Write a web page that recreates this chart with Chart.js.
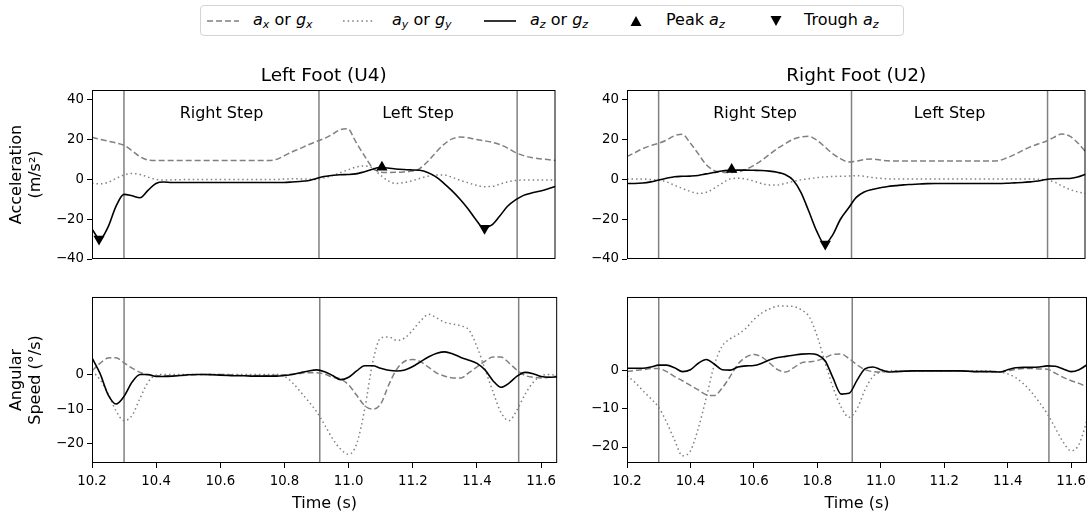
<!DOCTYPE html>
<html>
<head>
<meta charset="utf-8">
<script src="https://cdn.jsdelivr.net/npm/chart.js@4.4.0/dist/chart.umd.min.js"></script>
<style>
  body { margin: 0; background: #fff; width: 1092px; height: 516px; position: relative; overflow: hidden; font-family: 'DejaVu Sans', sans-serif; }
  canvas { position: absolute; }
  #legend { position: absolute; left: 200px; top: 5px; width: 704px; height: 31px; box-sizing: border-box; border: 1px solid #d4d4d4; border-radius: 4px; background: #fff; }
  #legend svg { position: absolute; }
  #legend .t { position: absolute; top: 4px; font-size: 16px; line-height: 20px; white-space: nowrap; color: #000; }
  #legend sub { font-size: 11px; vertical-align: -3px; line-height: 0; }
</style>
</head>
<body>
<div id="legend">
  <svg style="left:6px;top:10px" width="32" height="10"><line x1="0" y1="5" x2="32" y2="5" stroke="gray" stroke-width="1.6" stroke-dasharray="6,3"/></svg>
  <span class="t" style="left:52px"><i>a</i><sub><i>x</i></sub> or <i>g</i><sub><i>x</i></sub></span>
  <svg style="left:142px;top:10px" width="32" height="10"><line x1="0" y1="5" x2="32" y2="5" stroke="gray" stroke-width="1.6" stroke-dasharray="1.6,3"/></svg>
  <span class="t" style="left:191px"><i>a</i><sub><i>y</i></sub> or <i>g</i><sub><i>y</i></sub></span>
  <svg style="left:283px;top:10px" width="32" height="10"><line x1="0" y1="5" x2="32" y2="5" stroke="#000" stroke-width="1.6"/></svg>
  <span class="t" style="left:329px"><i>a</i><sub><i>z</i></sub> or <i>g</i><sub><i>z</i></sub></span>
  <svg style="left:429px;top:9px" width="12" height="12"><polygon points="6,1 11.5,11 0.5,11" fill="#000"/></svg>
  <span class="t" style="left:465px">Peak <i>a</i><sub><i>z</i></sub></span>
  <svg style="left:569px;top:9px" width="12" height="12"><polygon points="0.5,1 11.5,1 6,11" fill="#000"/></svg>
  <span class="t" style="left:603px">Trough <i>a</i><sub><i>z</i></sub></span>
</div>
<canvas id="accL" width="562" height="216" style="left:0;top:55px"></canvas>
<canvas id="accR" width="530" height="216" style="left:562px;top:55px"></canvas>
<canvas id="gyrL" width="562" height="230" style="left:0;top:286px"></canvas>
<canvas id="gyrR" width="530" height="230" style="left:562px;top:286px"></canvas>
<script>
Chart.defaults.font.family = "'DejaVu Sans', sans-serif";
Chart.defaults.color = '#000';

// time axis (s)
const time = [
  10.2, 10.225, 10.25, 10.275, 10.3, 10.325, 10.35, 10.375, 10.4, 10.425,
  10.45, 10.475, 10.5, 10.525, 10.55, 10.575, 10.6, 10.625, 10.65, 10.675,
  10.7, 10.725, 10.75, 10.775, 10.8, 10.825, 10.85, 10.875, 10.9, 10.925,
  10.95, 10.975, 11.0, 11.025, 11.05, 11.075, 11.1, 11.125, 11.15, 11.175,
  11.2, 11.225, 11.25, 11.275, 11.3, 11.325, 11.35, 11.375, 11.4, 11.425,
  11.45, 11.475, 11.5, 11.525, 11.55, 11.575, 11.6, 11.625, 11.65
];
const timeTicks = [10.2, 10.4, 10.6, 10.8, 11.0, 11.2, 11.4, 11.6];
const stepBounds = [10.3, 10.91, 11.53];
const stepNames = ['Right Step', 'Left Step'];
const stepLabelY = 33;

const accTicks = [-40, -20, 0, 20, 40];
const gyrTicks = [-20, -10, 0];

// left foot (U4) acceleration
const accL_x = [
  21.2, 20.2, 19.3, 18.4, 17.2, 14.5, 11.5, 9.8, 9.5, 9.5,
  9.5, 9.5, 9.5, 9.5, 9.5, 9.5, 9.5, 9.5, 9.5, 9.5,
  9.5, 9.5, 9.5, 10.0, 11.8, 13.8, 15.5, 17.3, 19.0, 20.5,
  22.5, 25.0, 25.5, 19.0, 12.5, 6.5, 3.8, 3.5, 3.6, 3.8,
  4.2, 5.5, 9.0, 13.5, 17.5, 20.3, 21.3, 21.0, 20.2, 19.5,
  18.8, 17.6, 15.8, 13.5, 12.0, 11.0, 10.4, 10.0, 9.6
];
const accL_y = [
  -2.0, -2.2, -1.5, 0.5, 2.2, 3.0, 2.5, 1.2, 0.0, -0.3,
  -0.2, -0.1, 0, 0, 0, 0, 0, 0, 0, 0,
  0, 0, 0, 0, 0.2, 0.3, 0.3, 0.2, 0.0, 0.8,
  1.8, 3.3, 4.8, 6.2, 6.8, 6.0, 2.5, -0.5, -2.0, -1.6,
  -0.7, 0.5, 1.6, 2.3, 2.3, 1.2, -0.3, -1.6, -2.8, -3.6,
  -3.5, -2.4, -1.2, -0.5, -0.3, -0.3, -0.3, -0.3, -0.3
];
const accL_z = [
  -25.0, -30.0, -24.0, -13.5, -7.5, -8.2, -9.2, -5.5, -2.0, -1.3,
  -1.5, -1.5, -1.5, -1.5, -1.5, -1.5, -1.5, -1.5, -1.5, -1.5,
  -1.5, -1.5, -1.5, -1.5, -1.5, -1.3, -1.0, -0.6, 0.4, 1.5,
  2.0, 2.4, 2.5, 2.8, 3.8, 5.0, 6.0, 5.8, 5.3, 5.0,
  4.8, 4.6, 3.5, 1.4, -1.8, -5.5, -9.7, -14.5, -20.0, -24.3,
  -23.0, -18.5, -13.5, -10.3, -8.0, -6.8, -5.9, -4.8, -3.5
];
const peakL_t = [11.107];
const peakL_v = [6.1];
const troughL_t = [10.222, 11.428];
const troughL_v = [-30.0, -24.5];

// right foot (U2) acceleration
const accR_x = [
  11.5, 13.5, 15.5, 17.0, 18.2, 19.8, 22.0, 22.7, 18.3, 13.0,
  7.5, 4.5, 3.6, 3.5, 3.8, 5.0, 7.0, 9.5, 12.5, 15.5,
  18.0, 20.2, 21.4, 21.7, 19.8, 16.5, 13.0, 10.5, 8.8, 9.2,
  10.0, 10.3, 9.8, 9.4, 9.3, 9.3, 9.3, 9.3, 9.3, 9.3,
  9.3, 9.3, 9.3, 9.3, 9.3, 9.3, 9.3, 9.5, 10.8, 12.5,
  14.5, 16.4, 17.8, 19.2, 21.2, 22.9, 21.8, 18.5, 14.0
];
const accR_y = [
  0.2, 0.2, 0.2, 0.0, -0.3, -1.2, -2.9, -4.5, -6.0, -7.0,
  -6.5, -4.5, -2.0, 0.2, 0.6, 0.3, -0.8, -2.0, -2.8, -2.8,
  -2.0, -1.0, -0.2, 0.4, 0.9, 1.3, 1.5, 1.6, 1.7, 1.9,
  1.6, 1.0, 0.6, 0.3, 0.2, 0.2, 0.2, 0.2, 0.2, 0.2,
  0.2, 0.2, 0.2, 0.2, 0.2, 0.2, 0.2, 0.2, 0.2, 0.2,
  0.2, 0.2, 0.1, -0.3, -1.2, -3.2, -5.0, -6.2, -7.0
];
const accR_z = [
  -2.0, -2.0, -1.8, -1.2, -0.3, 0.6, 1.4, 1.6, 1.7, 2.0,
  2.8, 3.5, 4.3, 4.6, 4.7, 4.7, 4.6, 4.5, 4.2, 3.6,
  2.5, -0.3, -6.5, -16.0, -26.0, -32.5, -28.0, -20.0, -14.5, -9.0,
  -6.3, -5.0, -4.2, -3.5, -3.1, -2.7, -2.5, -2.3, -2.1, -2.0,
  -2.0, -2.0, -2.0, -2.0, -2.0, -2.0, -2.0, -2.0, -1.9, -1.7,
  -1.5, -1.2, -0.8, 0.0, 0.4, 0.5, 0.5, 1.2, 2.6
];
const peakR_t = [10.531];
const peakR_v = [5.0];
const troughR_t = [10.827];
const troughR_v = [-32.5];

// left foot (U4) angular speed
const gyrL_x = [
  1.0, 3.2, 4.7, 4.8, 3.3, 1.8, 0.6, -0.2, -0.4, -0.4,
  -0.4, -0.3, -0.2, -0.1, 0.0, 0.0, 0.0, -0.1, -0.2, -0.3,
  -0.3, -0.3, -0.3, -0.2, -0.1, 0.1, 0.3, 0.5, 0.5, 0.1,
  -0.8, -1.3, -3.0, -6.0, -9.0, -10.0, -8.5, -3.0, 1.5, 3.8,
  4.3, 3.6, 2.0, 0.4, -0.5, -1.0, -1.0, 0.5, 2.2, 3.8,
  5.0, 5.0, 3.3, 1.2, -0.3, -0.8, -1.0, -0.8, -0.5
];
const gyrL_y = [
  1.0, -1.5, -5.5, -10.5, -13.3, -11.8, -6.8, -2.2, -0.2, 0.0,
  0, 0, 0, 0, 0, 0, 0, 0, 0, 0,
  0, 0, 0, 0, -0.5, -2.4, -5.0, -7.8, -10.7, -14.5,
  -18.5, -21.5, -23.0, -20.0, -10.0, 3.5, 10.5, 10.8, 9.8, 10.5,
  12.8, 15.5, 17.3, 16.2, 15.0, 14.5, 14.0, 12.8, 8.0, 1.5,
  -5.0, -11.0, -13.3, -10.2, -5.7, -2.3, -0.4, 0.0, -0.3
];
const gyrL_z = [
  4.8, 0.3, -5.8, -8.5, -6.3, -2.2, 0.0, 0.0, -0.6, -0.6,
  -0.5, -0.3, -0.1, 0.0, 0.0, -0.1, -0.2, -0.3, -0.4, -0.4,
  -0.5, -0.5, -0.5, -0.5, -0.3, 0.0, 0.5, 1.0, 1.3, 0.8,
  -0.3, -1.5, -0.8, 1.0, 2.5, 2.5, 1.8, 1.2, 1.0, 1.3,
  2.3, 3.7, 5.1, 6.1, 6.5, 5.9, 4.9, 4.1, 3.2, 1.3,
  -1.8, -3.7, -2.5, -0.5, 0.6, 0.2, -0.6, -0.8, -0.7
];

// right foot (U2) angular speed
const gyrR_x = [
  -0.2, 0.1, 0.3, 0.6, 0.6, -0.2, -1.5, -2.6, -3.8, -5.0,
  -6.3, -6.5, -4.5, -1.5, 1.8, 3.6, 4.3, 3.6, 2.0, 0.3,
  -0.3, 0.8, 2.1, 2.4, 2.7, 3.5, 4.3, 4.4, 3.2, 1.6,
  0.3, -0.2, -0.3, -0.2, -0.1, 0.0, 0.0, 0.0, 0.0, 0.0,
  0.0, 0.0, 0.0, -0.1, -0.2, -0.2, -0.3, -0.3, 0.0, 0.4,
  0.6, 0.6, 0.5, 0.4, -0.6, -1.7, -2.6, -3.3, -4.3
];
const gyrR_y = [
  -1.3, -3.0, -5.2, -7.3, -9.6, -13.5, -18.2, -22.3, -21.0, -15.0,
  -7.0, 1.5, 6.5, 8.4, 9.6, 11.2, 13.5, 15.2, 16.3, 17.0,
  17.0, 16.9, 16.0, 14.1, 9.0, 2.0, -4.5, -9.5, -12.2, -10.0,
  -5.0, -1.5, -0.3, 0, 0, 0, 0, 0, 0, 0,
  0, 0, 0, 0, 0, 0, -0.1, -0.3, -0.8, -1.8,
  -3.4, -5.6, -8.3, -11.3, -15.0, -18.7, -21.0, -19.3, -13.0
];
const gyrR_z = [
  0.7, 0.7, 0.7, 1.0, 1.5, 1.5, 0.8, -0.2, 0.3, 2.0,
  3.0, 1.8, 0.3, 0.2, 1.0, 1.3, 1.4, 2.0, 2.9, 3.5,
  3.8, 4.1, 4.4, 4.5, 4.2, 2.6, -2.0, -6.1, -5.9, -2.5,
  0.5, 1.0, 0.3, -0.3, -0.2, -0.1, 0.0, 0.0, 0.0, 0.0,
  0.0, 0.0, 0.0, -0.1, -0.2, -0.2, -0.2, -0.3, 0.3, 0.8,
  0.9, 0.9, 1.0, 1.3, 1.2, 0.5, -0.2, 0.3, 1.6
];

const minus = v => String(v).replace('-', '\u2212');

// vertical step lines, step names, frame and panel title
const panelDecor = {
  id: 'panelDecor',
  beforeDatasetsDraw(chart, args, opts) {
    const { ctx, chartArea: a, scales: { x, y } } = chart;
    ctx.save();
    ctx.strokeStyle = 'gray';
    ctx.lineWidth = 1.5;
    stepBounds.forEach(t => {
      const px = x.getPixelForValue(t);
      ctx.beginPath();
      ctx.moveTo(px, a.top);
      ctx.lineTo(px, a.bottom);
      ctx.stroke();
    });
    if (opts.steps) {
      ctx.fillStyle = '#000';
      ctx.font = "16px 'DejaVu Sans'";
      ctx.textAlign = 'center';
      ctx.textBaseline = 'middle';
      stepNames.forEach((name, i) => {
        const cx = x.getPixelForValue((stepBounds[i] + stepBounds[i + 1]) / 2);
        ctx.fillText(name, cx, y.getPixelForValue(stepLabelY));
      });
    }
    ctx.restore();
  },
  afterDraw(chart, args, opts) {
    const { ctx, chartArea: a } = chart;
    ctx.save();
    ctx.strokeStyle = '#000';
    ctx.lineWidth = 1;
    ctx.strokeRect(a.left + 0.5, a.top + 0.5, a.right - a.left - 1, a.bottom - a.top - 1);
    if (opts.title) {
      ctx.fillStyle = '#000';
      ctx.font = "18.5px 'DejaVu Sans'";
      ctx.textAlign = 'center';
      ctx.textBaseline = 'middle';
      ctx.fillText(opts.title, (a.left + a.right) / 2, a.top - 14);
    }
    ctx.restore();
  }
};

const line = (vals, kind) => ({
  data: time.map((t, i) => ({ x: t, y: vals[i] })),
  borderColor: kind === 'z' ? '#000' : 'gray',
  borderWidth: kind === 'z' ? 1.6 : 1.5,
  borderDash: kind === 'x' ? [6, 3] : kind === 'y' ? [1.5, 3] : [],
  pointRadius: 0,
  cubicInterpolationMode: 'monotone',
  fill: false
});

const marks = (ts, vs, down) => ({
  data: ts.map((t, i) => ({ x: t, y: vs[i] })),
  showLine: false,
  pointStyle: 'triangle',
  rotation: down ? 180 : 0,
  pointRadius: 6.5,
  backgroundColor: '#000',
  borderColor: '#000',
  borderWidth: 0
});

const tickGrid = { display: true, drawOnChartArea: false, drawTicks: true, tickLength: 5, tickColor: '#000', tickWidth: 1 };

function makeChart(id, o) {
  return new Chart(document.getElementById(id), {
    type: 'line',
    data: { datasets: o.datasets },
    options: {
      responsive: false,
      animation: false,
      devicePixelRatio: 1,
      layout: { padding: o.padding },
      plugins: {
        legend: { display: false },
        tooltip: { enabled: false },
        panelDecor: { title: o.title, steps: o.steps }
      },
      scales: {
        x: {
          type: 'linear',
          min: 10.2,
          max: 11.65,
          display: o.showX,
          afterBuildTicks: s => { s.ticks = timeTicks.map(v => ({ value: v })); },
          afterFit: s => { s.height = o.showX ? 53 : 0; },
          grid: tickGrid,
          border: { display: false },
          ticks: { padding: 6, font: { size: 13.3 }, color: '#000', maxRotation: 0, autoSkip: false, callback: v => v.toFixed(1) },
          title: { display: true, text: 'Time (s)', font: { size: 16 }, color: '#000', padding: { top: 0, bottom: 2.4 } }
        },
        y: {
          min: o.yMin,
          max: o.yMax,
          afterBuildTicks: s => { s.ticks = o.yTicks.map(v => ({ value: v })); },
          afterFit: s => { s.width = o.yWidth; },
          grid: tickGrid,
          border: { display: false },
          ticks: { padding: 3, font: { size: 13.3 }, color: '#000', callback: v => minus(v) },
          title: {
            display: !!o.yTitle,
            text: o.yTitle,
            font: { size: 16, lineHeight: 1.15 },
            color: '#000',
            padding: { top: 8, bottom: 0 }
          }
        }
      }
    },
    plugins: [panelDecor]
  });
}

makeChart('accL', {
  title: 'Left Foot (U4)', steps: true, showX: false,
  padding: { top: 35, bottom: 12, left: 0, right: 2 },
  yMin: -40, yMax: 45, yTicks: accTicks, yWidth: 92,
  yTitle: ['Acceleration', '(m/s\u00b2)'],
  datasets: [
    marks(peakL_t, peakL_v, false),
    marks(troughL_t, troughL_v, true),
    line(accL_z, 'z'), line(accL_y, 'y'), line(accL_x, 'x')
  ]
});

makeChart('accR', {
  title: 'Right Foot (U2)', steps: true, showX: false,
  padding: { top: 35, bottom: 12, left: 0, right: 2 },
  yMin: -40, yMax: 45, yTicks: accTicks, yWidth: 65,
  datasets: [
    marks(peakR_t, peakR_v, false),
    marks(troughR_t, troughR_v, true),
    line(accR_z, 'z'), line(accR_y, 'y'), line(accR_x, 'x')
  ]
});

makeChart('gyrL', {
  steps: false, showX: true,
  padding: { top: 10, bottom: 0, left: 0, right: 2 },
  yMin: -25.5, yMax: 22.3, yTicks: gyrTicks, yWidth: 92,
  yTitle: ['Angular', 'Speed (\u00b0/s)'],
  datasets: [line(gyrL_z, 'z'), line(gyrL_y, 'y'), line(gyrL_x, 'x')]
});

makeChart('gyrR', {
  steps: false, showX: true,
  padding: { top: 10, bottom: 0, left: 0, right: 2 },
  yMin: -24.2, yMax: 19.4, yTicks: gyrTicks, yWidth: 65,
  datasets: [line(gyrR_z, 'z'), line(gyrR_y, 'y'), line(gyrR_x, 'x')]
});
</script>
</body>
</html>
